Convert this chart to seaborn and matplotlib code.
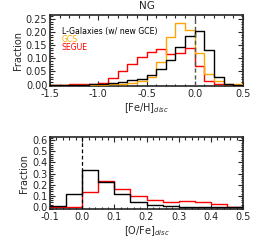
import numpy as np
import pandas as pd
import seaborn as sns
import matplotlib
matplotlib.use("Agg")
import matplotlib.pyplot as plt
from matplotlib.ticker import MultipleLocator, FormatStrFormatter

# ---- data: [Fe/H] histograms (bin width 0.1, from -1.5 to 0.5) ----
feh_edges = [-1.5, -1.4, -1.3, -1.2, -1.1, -1.0, -0.9, -0.8, -0.7, -0.6, -0.5,
             -0.4, -0.3, -0.2, -0.1, 0.0, 0.1, 0.2, 0.3, 0.4, 0.5]
feh_lgal = [0, 0, 0, 0, 0.001, 0.003, 0.006, 0.010, 0.016, 0.023, 0.035,
            0.058, 0.093, 0.144, 0.184, 0.203, 0.133, 0.030, 0.002, 0]
feh_gcs = [0, 0, 0, 0, 0, 0, 0.001, 0.003, 0.007, 0.015, 0.030,
           0.087, 0.180, 0.235, 0.209, 0.119, 0.040, 0.012, 0.003, 0.001]
feh_segue = [0, 0, 0.001, 0.002, 0.003, 0.005, 0.026, 0.050, 0.080, 0.105, 0.125,
             0.135, 0.118, 0.122, 0.140, 0.071, 0.015, 0.002, 0, 0]

# ---- data: [O/Fe] histograms (bin width 0.05, from -0.1 to 0.5) ----
ofe_edges = [-0.1, -0.05, 0.0, 0.05, 0.1, 0.15, 0.2, 0.25, 0.3, 0.35, 0.4, 0.45, 0.5]
ofe_lgal = [0.005, 0.120, 0.328, 0.220, 0.120, 0.045, 0.018, 0.008, 0.003, 0.003, 0.001, 0]
ofe_segue = [0, 0, 0.135, 0.230, 0.165, 0.095, 0.058, 0.046, 0.052, 0.046, 0.030, 0.003]

labels = ["L-Galaxies (w/ new GCE)", "GCS", "SEGUE"]
colors = ["black", "#FFA500", "#FF0000"]

sns.set_style("ticks")
plt.rcParams['font.family'] = ['DejaVu Sans']
plt.rcParams['font.size'] = 7

fig = plt.figure(figsize=(2.58, 2.42), dpi=100)
ax1 = fig.add_axes([0.194, 0.645, 0.748, 0.293])
ax2 = fig.add_axes([0.194, 0.136, 0.748, 0.298])


def step_hist(ax, edges, values, color, zorder):
    df = pd.DataFrame({"x": list(edges), "y": list(values) + [values[-1]]})
    sns.lineplot(data=df, x="x", y="y", drawstyle="steps-post", color=color,
                 linewidth=1.0, ax=ax, zorder=zorder, estimator=None, sort=False)


# top panel
step_hist(ax1, feh_edges, feh_segue, colors[2], 2)
step_hist(ax1, feh_edges, feh_gcs, colors[1], 3)
step_hist(ax1, feh_edges, feh_lgal, colors[0], 4)
ax1.axvline(0.0, color="#555555", linestyle=(0, (3, 2)), linewidth=1.0, zorder=5)
ax1.set_xlim(-1.5, 0.5)
ax1.set_ylim(-0.005, 0.265)
ax1.xaxis.set_major_locator(MultipleLocator(0.5))
ax1.xaxis.set_minor_locator(MultipleLocator(0.1))
ax1.yaxis.set_major_locator(MultipleLocator(0.05))
ax1.yaxis.set_minor_locator(MultipleLocator(0.01))
ax1.yaxis.set_major_formatter(FormatStrFormatter('%.2f'))
ax1.xaxis.set_major_formatter(FormatStrFormatter('%.1f'))
ax1.set_xlabel(r"[Fe/H]$_{disc}$", fontsize=7, labelpad=2)
ax1.set_ylabel("Fraction", fontsize=7, labelpad=2)
ax1.set_title("NG", fontsize=7.5, pad=4)
for i, (lab, c) in enumerate(zip(labels, colors)):
    ax1.text(0.06, 0.765 - i * 0.112, lab, color=c, fontsize=5.6,
             transform=ax1.transAxes, va="center", ha="left")

# bottom panel
step_hist(ax2, ofe_edges, ofe_segue, colors[2], 2)
step_hist(ax2, ofe_edges, ofe_lgal, colors[0], 4)
ax2.axvline(0.0, color="black", linestyle=(0, (3, 2)), linewidth=0.9, zorder=5)
ax2.set_xlim(-0.1, 0.5)
ax2.set_ylim(-0.02, 0.63)
ax2.xaxis.set_major_locator(MultipleLocator(0.1))
ax2.xaxis.set_minor_locator(MultipleLocator(0.02))
ax2.yaxis.set_major_locator(MultipleLocator(0.1))
ax2.yaxis.set_minor_locator(MultipleLocator(0.02))
ax2.yaxis.set_major_formatter(FormatStrFormatter('%.1f'))
ax2.xaxis.set_major_formatter(FormatStrFormatter('%.1f'))
ax2.set_xlabel(r"[O/Fe]$_{disc}$", fontsize=7, labelpad=2)
ax2.set_ylabel("Fraction", fontsize=7, labelpad=2)

for ax in (ax1, ax2):
    ax.tick_params(which="both", direction="in", top=True, right=True,
                   labelsize=7, pad=2, width=0.8)
    ax.tick_params(which="major", length=3.5)
    ax.tick_params(which="minor", length=1.8)
    for s in ax.spines.values():
        s.set_linewidth(1.2)
        s.set_visible(True)

fig.savefig("out.png", dpi=100)
